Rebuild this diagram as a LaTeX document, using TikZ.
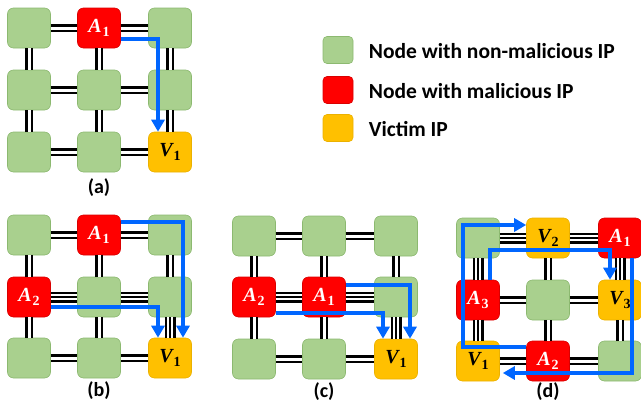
\documentclass[tikz,border=0pt]{standalone}
\usepackage{fontspec}
\setmainfont{Carlito}
\newfontfamily\labfont{Liberation Serif}
\usetikzlibrary{arrows.meta,calc}
\definecolor{gn}{RGB}{169,208,142}
\definecolor{gnb}{RGB}{140,185,112}
\definecolor{rd}{RGB}{255,0,0}
\definecolor{og}{RGB}{255,192,0}
\definecolor{bl}{RGB}{0,102,255}
\newcommand{\nlab}[2]{{\labfont\bfseries\fontsize{20}{20}\selectfont\itshape #1\kern1pt\raisebox{-4.5pt}{\fontsize{14}{14}\selectfont\upshape #2}}}
\begin{document}
\begin{tikzpicture}[x=1pt,y=-1pt,
  nd/.style={rectangle,rounded corners=6pt,minimum width=43pt,minimum height=40pt,inner sep=0pt,line width=0.6pt},
  gnode/.style={nd,fill=gn,draw=gnb},
  rnode/.style={nd,fill=rd,draw=rd!85!black,text=white},
  onode/.style={nd,fill=og,draw=og!92!black,text=black},
  lk/.style={draw=black,line width=2.2pt,double=white,double distance=3pt},
  tlk/.style={draw=black,line width=2.2pt,preaction={draw=black,line width=11pt},preaction={draw=white,line width=6.6pt}},
  atk/.style={draw=bl,line width=3.8pt,-{Triangle[width=13pt,length=12pt]}},
  captxt/.style={font=\bfseries\fontsize{20}{22}\selectfont},
  lgt/.style={anchor=west,font=\bfseries\fontsize{21.5}{24}\selectfont},
  lgb/.style={minimum width=30pt,minimum height=27pt,rounded corners=4pt}
]
\useasboundingbox (0,0) rectangle (641,402);

% ---------- (a)
\node[gnode] (a11) at (29,28) {};
\node[rnode] (a12) at (99,28) {\nlab{A}{1}};
\node[gnode] (a13) at (170,28) {};
\node[gnode] (a21) at (29,90) {};
\node[gnode] (a22) at (99,90) {};
\node[gnode] (a23) at (170,90) {};
\node[gnode] (a31) at (29,152) {};
\node[gnode] (a32) at (99,152) {};
\node[onode] (a33) at (170,152) {\nlab{V}{1}};
\path[lk] (a11)--(a12) (a12)--(a13) (a21)--(a22) (a22)--(a23) (a31)--(a32) (a32)--(a33)
          (a11)--(a21) (a21)--(a31) (a12)--(a22) (a22)--(a32) (a13)--(a23) (a23)--(a33);
\draw[atk] ($(a12.east)+(0,11)$) -| ($(a33.north)+(-12,0)$);
\node[captxt] (capa) at (99,188) {(a)};

% ---------- (b)
\node[gnode] (b11) at (29,235) {};
\node[rnode] (b12) at (99,235) {\nlab{A}{1}};
\node[gnode] (b13) at (170,235) {};
\node[rnode] (b21) at (29,297) {\nlab{A}{2}};
\node[gnode] (b22) at (99,297) {};
\node[gnode] (b23) at (170,297) {};
\node[gnode] (b31) at (29,358) {};
\node[gnode] (b32) at (99,358) {};
\node[onode] (b33) at (170,358) {\nlab{V}{1}};
\path[lk] (b11)--(b12) (b12)--(b13) (b31)--(b32) (b32)--(b33)
          (b11)--(b21) (b21)--(b31) (b12)--(b22) (b22)--(b32) (b13)--(b23);
\path[tlk] (b21)--(b22) (b22)--(b23) (b23)--(b33);
\draw[atk] ($(b12.east)+(0,-13)$) -| ($(b33.north)+(13,0)$);
\draw[atk] ($(b21.east)+(0,10)$) -| ($(b33.north)+(-12,0)$);
\node[captxt] (capb) at (99,391) {(b)};

% ---------- (c)
\node[gnode] (c11) at (254,236) {};
\node[gnode] (c12) at (324,236) {};
\node[gnode] (c13) at (396,236) {};
\node[rnode] (c21) at (254,297) {\nlab{A}{2}};
\node[rnode] (c22) at (324,297) {\nlab{A}{1}};
\node[gnode] (c23) at (396,297) {};
\node[gnode] (c31) at (254,359) {};
\node[gnode] (c32) at (324,359) {};
\node[onode] (c33) at (396,359) {\nlab{V}{1}};
\path[lk] (c11)--(c12) (c12)--(c13) (c31)--(c32) (c32)--(c33)
          (c11)--(c21) (c21)--(c31) (c12)--(c22) (c22)--(c32) (c13)--(c23);
\path[tlk] (c21)--(c22) (c22)--(c23) (c23)--(c33);
\draw[atk] ($(c22.east)+(0,-12)$) -| ($(c33.north)+(14,0)$);
\draw[atk] ($(c21.east)+(0,16)$) -| ($(c33.north)+(-13,0)$);
\node[captxt] (capc) at (324,392) {(c)};

% ---------- (d)
\node[gnode] (d11) at (478,238) {};
\node[onode] (d12) at (548,238) {\nlab{V}{2}};
\node[rnode] (d13) at (620,238) {\nlab{A}{1}};
\node[rnode] (d21) at (478,300) {\nlab{A}{3}};
\node[gnode] (d22) at (548,300) {};
\node[onode] (d23) at (620,300) {\nlab{V}{3}};
\node[onode] (d31) at (478,361) {\nlab{V}{1}};
\node[rnode] (d32) at (548,361) {\nlab{A}{2}};
\node[gnode] (d33) at (620,361) {};
\path[lk] (d21)--(d22) (d22)--(d23) (d31)--(d32) (d32)--(d33)
          (d12)--(d22) (d22)--(d32) (d23)--(d33);
\path[tlk] (d11)--(d12) (d12)--(d13) (d11)--(d21) (d21)--(d31) (d13)--(d23);
\draw[atk] ($(d21.north)+(12,0)$) |- ($(d23.north)+(-10,-30)$) -- ($(d23.north)+(-10,0)$);
\draw[atk] ($(d32.west)+(0,-14)$) -| ($(d11.west)+(6.5,-13)$) -- ($(d12.west)+(0,-13)$);
\draw[atk] ($(d13.south)+(12,0)$) |- ($(d31.east)+(3,12)$);
\node[captxt] (capd) at (548,392) {(d)};

% ---------- legend
\node[gnode,lgb] (lg1) at (338,50) {};
\node[rnode,lgb] (lg2) at (338,90) {};
\node[onode,lgb] (lg3) at (338,128) {};
\node[lgt] (lt1) at ($(lg1.east)+(12,1)$) {Node with non-malicious IP};
\node[lgt] (lt2) at ($(lg2.east)+(12,1)$) {Node with malicious IP};
\node[lgt] (lt3) at ($(lg3.east)+(12,1)$) {Victim IP};
\end{tikzpicture}
\end{document}
